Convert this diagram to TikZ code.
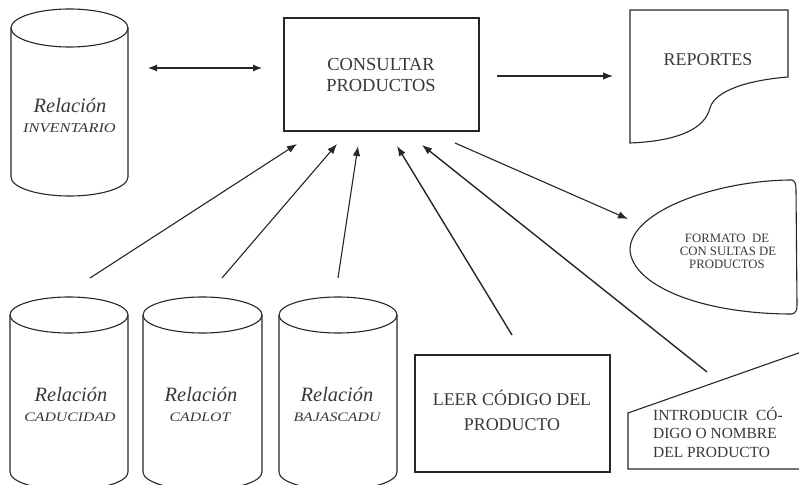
\documentclass[tikz,border=0pt]{standalone}
\usepackage{fontspec}
\setmainfont{Liberation Serif}
\newfontfamily\wideit[ItalicFeatures={FakeStretch=1.22}]{Liberation Serif}
\usetikzlibrary{arrows.meta}
\definecolor{lc}{HTML}{262626}
\definecolor{tc}{HTML}{383838}
\tikzset{
  shp/.style={draw=lc, line width=1.1bp},
  arr/.style={draw=lc, line width=1.1bp, -{Latex[length=10bp,width=7.5bp]}},
  darr/.style={draw=lc, line width=1.1bp, {Latex[length=9bp,width=7bp]}-{Latex[length=9bp,width=7bp]}},
  txt/.style={inner sep=0, anchor=base, text=tc},
}
\begin{document}
\begin{tikzpicture}[x=1bp,y=-1bp]
\useasboundingbox (0,0) rectangle (799,485);
\clip (0,0) rectangle (799,485);

% cylinder INVENTARIO
\draw[shp] (11,28) -- (11,177) arc[start angle=180, end angle=0, x radius=58.5, y radius=19] -- (128,28);
\draw[shp] (69.5,28) ellipse[x radius=58.5, y radius=19];
\node[txt] (inv1) at (70,113) {\fontsize{20.5}{24}\selectfont\itshape Relación};
\node[txt] (inv2) at (69.5,133) {\fontsize{13.5}{16}\selectfont\wideit\itshape INVENTARIO};

% bottom cylinders
\draw[shp] (10,315) -- (10,472) arc[start angle=180, end angle=0, x radius=59, y radius=18] -- (128,315);
\draw[shp] (69,315) ellipse[x radius=59, y radius=18];
\draw[shp] (143,315) -- (143,472) arc[start angle=180, end angle=0, x radius=59.5, y radius=18] -- (262,315);
\draw[shp] (202.5,315) ellipse[x radius=59.5, y radius=18];
\draw[shp] (279,315) -- (279,472) arc[start angle=180, end angle=0, x radius=59, y radius=18] -- (397,315);
\draw[shp] (338,315) ellipse[x radius=59, y radius=18];

\node[txt] (cad1) at (71,401) {\fontsize{20.5}{24}\selectfont\itshape Relación};
\node[txt] (cad2) at (70,421) {\fontsize{13}{16}\selectfont\wideit\itshape CADUCIDAD};
\node[txt] (lot1) at (201,401) {\fontsize{20.5}{24}\selectfont\itshape Relación};
\node[txt] (lot2) at (200,421) {\fontsize{13}{16}\selectfont\wideit\itshape CADLOT};
\node[txt] (baj1) at (337,401) {\fontsize{20.5}{24}\selectfont\itshape Relación};
\node[txt] (baj2) at (337,421) {\fontsize{13}{16}\selectfont\wideit\itshape BAJASCADU};

% CONSULTAR box
\draw[shp] (284,18) rectangle (479,131);
\node[txt] (con1) at (381,71) {\fontsize{18.5}{21}\selectfont CONSULTAR};
\node[txt] (con2) at (381,92) {\fontsize{18.5}{21}\selectfont PRODUCTOS};

% REPORTES document
\draw[shp] (630,10) -- (788,10) -- (788,77)
  .. controls (750,80) and (715,90) .. (710,108)
  .. controls (705,128) and (680,141) .. (630,143) -- cycle;
\node[txt] (rep) at (708,66) {\fontsize{18}{21}\selectfont REPORTES};

% FORMATO display
\draw[shp] (792,180) .. controls (720,180) and (630,210) .. (630,250)
  .. controls (632,285) and (700,314) .. (792,314)
  .. controls (796,313) and (797,310) .. (797,305) -- (796,190)
  .. controls (796,184) and (795,181) .. (792,180) -- cycle;
\node[txt] (for1) at (727,243) {\fontsize{12.8}{13}\selectfont FORMATO\ \ DE};
\node[txt] (for2) at (728,256) {\fontsize{12.8}{13}\selectfont CON SULTAS DE};
\node[txt] (for3) at (727,269) {\fontsize{12.8}{13}\selectfont PRODUCTOS};

% LEER box
\draw[shp] (415,355) rectangle (610,472);
\node[txt] (lee1) at (512,405) {\fontsize{18}{21}\selectfont LEER CÓDIGO DEL};
\node[txt] (lee2) at (512,430) {\fontsize{18}{21}\selectfont PRODUCTO};

% INTRODUCIR manual input
\draw[shp] (628,413) -- (810,349) -- (810,469) -- (628,469) -- cycle;
\node[txt, anchor=base west] (int1) at (653,420) {\fontsize{15.5}{18}\selectfont INTRODUCIR\ \ CÓ-};
\node[txt, anchor=base west] (int2) at (653,438) {\fontsize{15.5}{18}\selectfont DIGO O NOMBRE};
\node[txt, anchor=base west] (int3) at (653,457) {\fontsize{15.5}{18}\selectfont DEL PRODUCTO};

% connector endpoints
\coordinate (d1) at (148,68);  \coordinate (d2) at (262,68);
\coordinate (r1) at (497,76);  \coordinate (r2) at (613,76);
\coordinate (a1s) at (90,278); \coordinate (a1e) at (297,144);
\coordinate (a2s) at (222,278); \coordinate (a2e) at (337,144);
\coordinate (a3s) at (338,278); \coordinate (a3e) at (358,146);
\coordinate (a4s) at (512,335); \coordinate (a4e) at (397,146);
\coordinate (a5s) at (707,372); \coordinate (a5e) at (422,145);
\coordinate (a6s) at (455,143); \coordinate (a6e) at (628,219);

\draw[darr] (d1) -- (d2);
\draw[arr] (r1) -- (r2);
\draw[arr] (a1s) -- (a1e);
\draw[arr] (a2s) -- (a2e);
\draw[arr] (a3s) -- (a3e);
\draw[arr, line width=1.4bp] (a4s) -- (a4e);
\draw[arr, line width=1.4bp] (a5s) -- (a5e);
\draw[arr] (a6s) -- (a6e);
\end{tikzpicture}
\end{document}
